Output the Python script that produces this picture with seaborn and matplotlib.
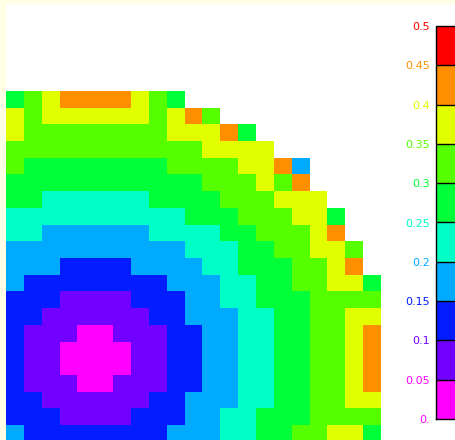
import numpy as np
import pandas as pd
import matplotlib
matplotlib.use("Agg")
import matplotlib.pyplot as plt
from matplotlib.colors import ListedColormap
from matplotlib.patches import Rectangle
import seaborn as sns

# ---- data -------------------------------------------------------------
# colour classes (bins of width 0.05 from 0 to 0.5)
level_colors = ["#FF00FF", "#7100FF", "#001CFF", "#00AAFF", "#00FFC6",
                "#00FF38", "#55FF00", "#E2FF00", "#FF8E00", "#FF0000"]
tick_values = [0.0, 0.05, 0.1, 0.15, 0.2, 0.25, 0.3, 0.35, 0.4, 0.45, 0.5]
tick_labels = ["0.", "0.05", "0.1", "0.15", "0.2", "0.25",
               "0.3", "0.35", "0.4", "0.45", "0.5"]
label_colors = ["#FF00FF", "#FF00FF", "#7100FF", "#001CFF", "#00AAFF",
                "#00FFC6", "#00FF38", "#55FF00", "#E2FF00", "#FF8E00", "#FF0000"]

# grid cells, read as class index per cell ('.' = no value), top row first
grid_rows = [
    "5678888765...........",
    "767777776786.........",
    "76666666677785.......",
    "666666666667777......",
    "65555555566667783....",
    "55555555555666768....",
    "554444445555666777...",
    "4444444444555666775..",
    "4433333344445566678..",
    "33333333334445566776.",
    "33322223333445556678.",
    "322222222333445566775",
    "222111122233445556666",
    "221111112233344556677",
    "211100111223344556678",
    "211000011223344556678",
    "211000011223344556678",
    "211100111223344556678",
    "221111112233344556677",
    "222111122233445556666",
    "322222222333445566775",
]
bin_width = 0.05

values = [[np.nan if ch == "." else (int(ch) + 0.5) * bin_width for ch in row]
          for row in grid_rows]
df = pd.DataFrame(values)

# ---- figure -----------------------------------------------------------
W, H = 456, 440
fig = plt.figure(figsize=(W / 100, H / 100), dpi=100, facecolor="#FFFFE6")
fig.add_artist(Rectangle((6 / W, 0), (W - 6) / W, (H - 4) / H,
                         transform=fig.transFigure, facecolor="white",
                         edgecolor="none", zorder=-10))

ax = fig.add_axes([6 / W, (H - 441.7) / H, 375 / W, 350.7 / H])
cax = fig.add_axes([436.5 / W, (H - 419) / H, 25 / W, 393 / H])

cmap = ListedColormap(level_colors)
sns.heatmap(df, ax=ax, cmap=cmap, vmin=0, vmax=0.5,
            cbar_ax=cax, cbar_kws=dict(ticks=tick_values, drawedges=True),
            xticklabels=False, yticklabels=False)
ax.set_facecolor("white")

cb = ax.collections[0].colorbar
cb.outline.set_linewidth(1.0)
cb.outline.set_edgecolor("black")
cb.dividers.set_color("black")
cb.dividers.set_linewidth(1.0)
cax.yaxis.set_ticks_position("left")
cax.yaxis.set_label_position("left")
cax.set_yticks(tick_values)
cax.set_yticklabels(tick_labels)
cax.tick_params(length=0, pad=5, labelsize=8)
for t, c in zip(cax.get_yticklabels(), label_colors):
    t.set_color(c)

fig.savefig("out.png", dpi=100, facecolor=fig.get_facecolor())
